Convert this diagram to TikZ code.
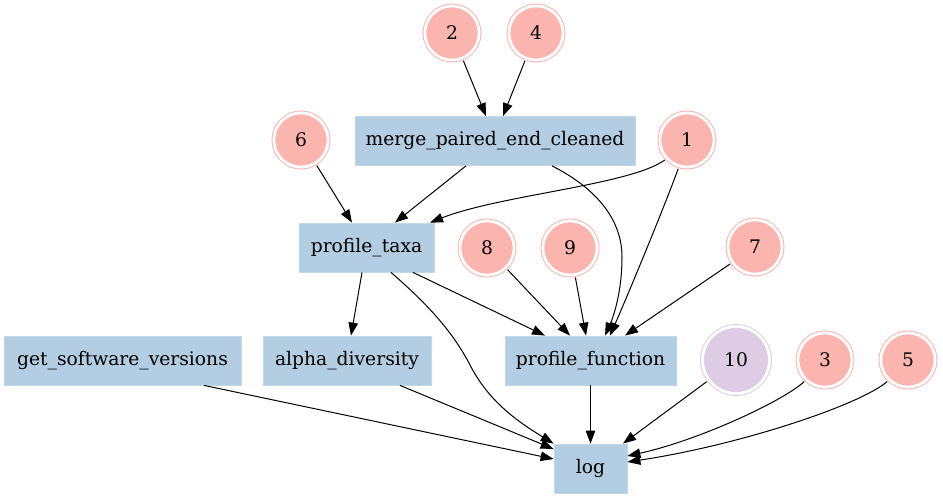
\documentclass[tikz,border=0pt]{standalone}
\usepackage{fontspec}
\setmainfont{DejaVu Serif}
\usetikzlibrary{arrows.meta}
\definecolor{boxblue}{HTML}{B3CDE3}
\definecolor{pinkred}{HTML}{FBB4AE}
\definecolor{lilac}{HTML}{DECBE4}
\begin{document}
\begin{tikzpicture}[x=1pt,y=-1pt,
  lbl/.style={font=\fontsize{18.7}{22}\selectfont},
  proc/.style={lbl, rectangle, fill=boxblue, draw=boxblue!80!white, line width=0.8pt, minimum height=49pt, inner sep=0pt},
  inp/.style={lbl, circle, fill=pinkred, draw=pinkred, double=white, double distance=2.8pt, line width=1pt, minimum size=54.2pt, inner sep=0pt, outer sep=2.9pt},
  inpb/.style={inp, fill=lilac, draw=lilac, minimum size=67pt},
  edge/.style={-{Triangle[length=13pt,width=9.5pt]}, line width=1pt, black}]
\useasboundingbox (0,0) rectangle (943,498);
% process boxes
\node[proc, minimum width=280pt] (merge) at (495,141) {merge\_paired\_end\_cleaned};
\node[proc, minimum width=135pt] (taxa) at (366.5,247.5) {profile\_taxa};
\node[proc, minimum width=237pt] (gsv) at (122.5,360.5) {get\_software\_versions};
\node[proc, minimum width=168pt] (alpha) at (347,360.5) {alpha\_diversity};
\node[proc, minimum width=171pt] (pf) at (590.5,360.5) {profile\_function};
\node[proc, minimum width=73pt] (log) at (590.5,468.5) {log};
% inputs
\node[inp] (n2) at (452,33) {2};
\node[inp] (n4) at (536,33) {4};
\node[inp] (n6) at (301,140) {6};
\node[inp] (n1) at (687,140) {1};
\node[inp] (n8) at (487,248) {8};
\node[inp] (n9) at (570,248) {9};
\node[inp] (n7) at (755,247) {7};
\node[inpb] (n10) at (736,360) {10};
\node[inp] (n3) at (825,360) {3};
\node[inp] (n5) at (908,360) {5};
% edges
\draw[edge] (n2) -- ([xshift=-9pt]merge.north);
\draw[edge] (n4) -- ([xshift=8pt]merge.north);
\draw[edge] (n6) -- ([xshift=-14.5pt]taxa.north);
\draw[edge] ([xshift=-29pt]merge.south) -- ([xshift=28.5pt]taxa.north);
\draw[edge] (n1.222) .. controls (630,185) and (500,195) .. ([xshift=63.5pt]taxa.north);
\draw[edge] ([xshift=57pt]merge.south) .. controls (590,185) and (622,215) .. (622,257)
  .. controls (622,295) and (612,320) .. ([xshift=14.5pt]pf.north);
\draw[edge] (n1.253) .. controls (665,205) and (630,290) .. ([xshift=19.5pt]pf.north);
\draw[edge] ([xshift=-4.5pt]taxa.south) -- ([xshift=4pt]alpha.north);
\draw[edge] ([xshift=24.5pt]taxa.south) .. controls (425,302) and (452,330) .. (470,365)
  .. controls (488,400) and (515,420) .. (log.north west);
\draw[edge] ([xshift=46.5pt]taxa.south) -- ([xshift=-45.5pt]pf.north);
\draw[edge] (n8) -- ([xshift=-20.5pt]pf.north);
\draw[edge] (n9) -- ([xshift=-4.5pt]pf.north);
\draw[edge] (n7) -- ([xshift=34.5pt]pf.north);
\draw[edge] ([xshift=81.5pt]gsv.south) -- ([yshift=9.5pt]log.west);
\draw[edge] ([xshift=53pt]alpha.south) -- ([yshift=19.5pt]log.west);
\draw[edge] (pf) -- (log);
\draw[edge] (n10) -- ([xshift=32.5pt]log.north);
\draw[edge] (n3.226) .. controls (785,400) and (700,440) .. ([yshift=12.5pt]log.east);
\draw[edge] (n5.226) .. controls (860,405) and (740,445) .. ([yshift=6.5pt]log.east);
\end{tikzpicture}
\end{document}
